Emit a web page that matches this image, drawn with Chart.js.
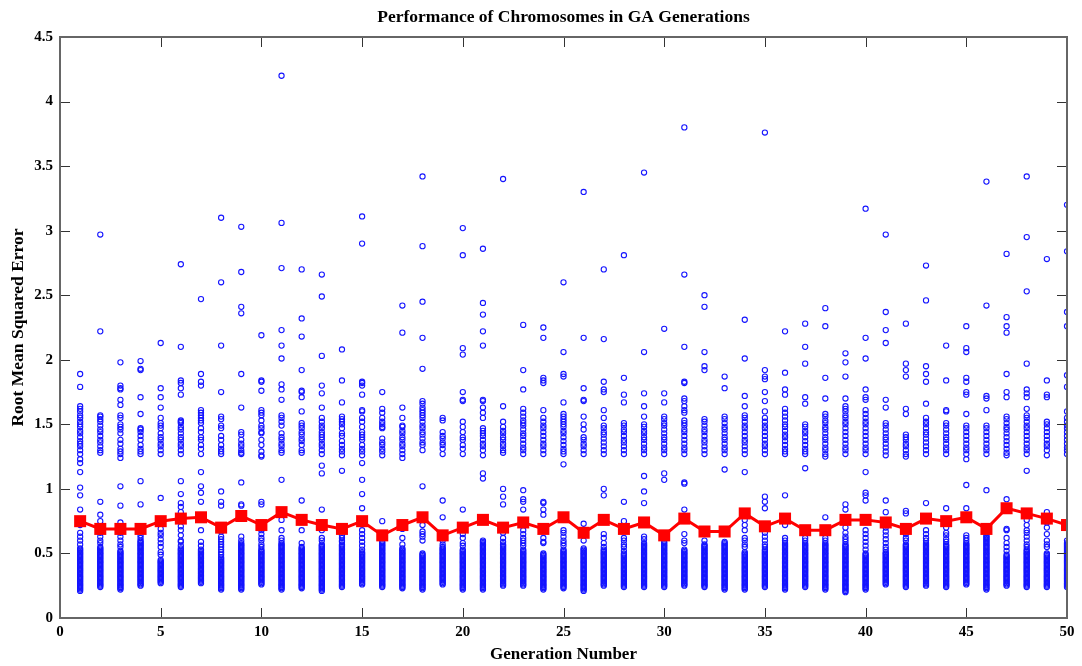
<!DOCTYPE html>
<html lang="en">
<head>
  <meta charset="UTF-8" />
  <title>Performance of Chromosomes in GA Generations</title>
  <script src="https://cdn.jsdelivr.net/npm/chart.js"></script>
  <style>
    html, body { margin:0; padding:0; background:#fff; }
    #wrap { width:1082px; height:666px; }
  </style>
</head>
<body>
<div id="wrap"><canvas id="chart" width="1082" height="666"></canvas></div>

<script>
const generations = [1,2,3,4,5,6,7,8,9,10,11,12,13,14,15,16,17,18,19,20,21,22,23,24,25,
  26,27,28,29,30,31,32,33,34,35,36,37,38,39,40,41,42,43,44,45,46,47,48,49,50];

// mean RMSE of each generation (red line)
const meanRmse = [0.75,0.69,0.69,0.69,0.75,0.77,0.78,0.70,0.79,0.72,0.82,0.76,0.72,0.69,0.75,0.64,0.72,0.78,0.64,0.70,
  0.76,0.70,0.74,0.69,0.78,0.66,0.76,0.69,0.74,0.64,0.77,0.67,0.67,0.81,0.71,0.77,0.68,0.68,0.76,0.76,
  0.74,0.69,0.77,0.75,0.78,0.69,0.85,0.81,0.77,0.72];

// chromosomes above the dense bottom cluster, one list per generation
const spreadRmse = [
  [1.89,1.79,1.64,1.62,1.60,1.57,1.55,1.52,1.50,1.48,1.45,1.43,1.40,1.37,1.35,1.33,1.30,1.27,1.23,1.20,1.13,1.01,0.95,0.84,0.72,0.66,0.63,0.60,0.57],
  [2.97,2.22,1.57,1.56,1.54,1.52,1.49,1.46,1.44,1.41,1.38,1.36,1.33,1.30,1.28,0.90,0.80,0.75,0.66,0.63,0.60,0.58],
  [1.98,1.80,1.78,1.77,1.69,1.65,1.57,1.55,1.50,1.48,1.46,1.43,1.38,1.35,1.31,1.29,1.27,1.24,1.02,0.87,0.74,0.66,0.63,0.60,0.57,0.55],
  [1.99,1.93,1.92,1.71,1.58,1.47,1.46,1.44,1.41,1.38,1.34,1.31,1.29,1.27,1.06,0.88,0.64,0.62],
  [2.13,1.78,1.71,1.63,1.55,1.51,1.49,1.47,1.43,1.40,1.38,1.35,1.33,1.30,1.27,0.93,0.73,0.69,0.66,0.64,0.61,0.58,0.55,0.51,0.49],
  [2.74,2.10,1.84,1.82,1.78,1.73,1.53,1.52,1.51,1.48,1.46,1.43,1.40,1.38,1.35,1.33,1.30,1.27,1.06,0.96,0.89,0.86,0.82,0.71,0.68,0.64,0.60,0.59,0.56],
  [2.47,1.89,1.83,1.80,1.61,1.59,1.57,1.55,1.53,1.51,1.47,1.44,1.40,1.38,1.34,1.31,1.27,1.13,1.02,0.97,0.90,0.68,0.59,0.56],
  [3.10,2.60,2.11,1.75,1.56,1.54,1.49,1.47,1.41,1.38,1.34,1.31,1.29,1.27,0.98,0.90,0.87,0.67,0.63,0.61,0.59,0.57,0.55,0.53,0.51,0.49,0.47],
  [3.03,2.68,2.41,2.36,1.89,1.63,1.44,1.42,1.38,1.35,1.33,1.30,1.28,1.27,1.05,0.88,0.87,0.63,0.60,0.58],
  [2.19,1.84,1.83,1.76,1.61,1.59,1.57,1.53,1.49,1.47,1.44,1.43,1.38,1.34,1.29,1.26,1.25,0.90,0.88,0.68,0.65,0.62,0.60,0.57,0.55],
  [4.20,3.06,2.71,2.23,2.11,2.01,1.81,1.77,1.69,1.57,1.55,1.52,1.49,1.43,1.40,1.38,1.35,1.33,1.30,1.28,1.07,0.76,0.68,0.62,0.60],
  [2.70,2.32,2.18,1.92,1.76,1.75,1.71,1.60,1.51,1.49,1.47,1.44,1.42,1.39,1.37,1.34,1.30,1.28,0.91,0.68,0.58,0.55],
  [2.66,2.49,2.03,1.80,1.74,1.63,1.55,1.52,1.49,1.47,1.44,1.42,1.40,1.38,1.35,1.33,1.30,1.27,1.18,1.12,0.84,0.68,0.62,0.60],
  [2.08,1.84,1.67,1.56,1.54,1.52,1.50,1.47,1.43,1.41,1.37,1.34,1.31,1.29,1.26,1.14,0.64,0.62,0.60,0.59],
  [3.11,2.90,1.83,1.82,1.80,1.73,1.61,1.60,1.55,1.52,1.48,1.44,1.42,1.40,1.38,1.34,1.31,1.29,1.26,1.20,1.07,0.96,0.85,0.68,0.65,0.62,0.59,0.56,0.53],
  [1.75,1.62,1.59,1.55,1.52,1.50,1.48,1.47,1.39,1.36,1.34,1.31,1.29,1.26,0.75],
  [2.42,2.21,1.63,1.55,1.49,1.48,1.45,1.43,1.40,1.38,1.35,1.33,1.30,1.27,1.24,0.69,0.62,0.57],
  [3.42,2.88,2.45,2.17,1.93,1.68,1.66,1.63,1.61,1.59,1.57,1.55,1.52,1.49,1.47,1.44,1.42,1.39,1.36,1.34,1.30,1.02,0.72,0.67,0.65,0.63,0.60],
  [1.55,1.53,1.44,1.41,1.39,1.36,1.34,1.31,1.27,0.91,0.78,0.60,0.57],
  [3.02,2.81,2.09,2.04,1.75,1.69,1.68,1.52,1.48,1.44,1.40,1.38,1.34,1.31,1.27,0.84,0.68,0.65,0.62,0.58,0.56],
  [2.86,2.44,2.35,2.22,2.11,1.69,1.68,1.63,1.59,1.55,1.47,1.45,1.43,1.41,1.38,1.35,1.33,1.30,1.26,1.12,1.08,0.60],
  [3.40,1.64,1.52,1.48,1.45,1.43,1.40,1.38,1.35,1.33,1.30,1.28,1.00,0.94,0.88,0.66,0.62,0.59],
  [2.27,1.92,1.77,1.62,1.59,1.56,1.53,1.51,1.49,1.46,1.43,1.41,1.38,1.35,1.32,1.30,1.27,0.99,0.92,0.90,0.84,0.68,0.65,0.62,0.60,0.58,0.56],
  [2.25,2.17,1.86,1.84,1.82,1.61,1.55,1.52,1.49,1.47,1.44,1.41,1.38,1.35,1.33,1.30,1.27,0.90,0.89,0.84,0.80,0.62,0.59,0.58],
  [2.60,2.06,1.89,1.87,1.67,1.58,1.56,1.54,1.52,1.50,1.48,1.45,1.43,1.40,1.37,1.34,1.31,1.29,1.27,1.19,0.68,0.66,0.63,0.60,0.58,0.56],
  [3.30,2.17,1.78,1.69,1.68,1.56,1.50,1.46,1.40,1.38,1.35,1.33,1.30,1.27,0.73,0.60],
  [2.70,2.16,1.83,1.77,1.75,1.61,1.55,1.49,1.47,1.44,1.42,1.39,1.36,1.33,1.30,1.27,1.00,0.95,0.65,0.62,0.58,0.55],
  [2.81,1.86,1.73,1.67,1.51,1.49,1.46,1.44,1.41,1.38,1.36,1.33,1.30,1.27,0.90,0.75,0.62,0.60,0.57,0.55,0.52],
  [3.45,2.06,1.74,1.64,1.56,1.50,1.48,1.45,1.43,1.40,1.38,1.35,1.32,1.30,1.27,1.10,0.98,0.89,0.63,0.61],
  [2.24,1.74,1.67,1.56,1.54,1.51,1.49,1.46,1.43,1.40,1.38,1.35,1.32,1.30,1.27,1.12,1.07],
  [3.80,2.66,2.10,1.83,1.82,1.70,1.68,1.64,1.61,1.59,1.53,1.51,1.49,1.46,1.44,1.41,1.38,1.35,1.32,1.30,1.27,1.05,1.04,0.84,0.65,0.60,0.58],
  [2.50,2.41,2.06,1.95,1.92,1.54,1.52,1.49,1.46,1.44,1.41,1.38,1.36,1.33,1.30,1.27,0.60],
  [1.87,1.78,1.56,1.54,1.51,1.48,1.46,1.43,1.40,1.38,1.35,1.32,1.30,1.27,1.15],
  [2.31,2.01,1.72,1.64,1.57,1.55,1.52,1.49,1.47,1.44,1.41,1.38,1.36,1.33,1.30,1.27,1.13,0.76,0.72,0.68,0.62,0.60,0.57,0.55],
  [3.76,1.92,1.87,1.85,1.75,1.68,1.60,1.55,1.52,1.49,1.47,1.44,1.41,1.38,1.35,1.33,1.30,1.27,0.94,0.90,0.85,0.66,0.63,0.60,0.57,0.55],
  [2.22,1.90,1.77,1.73,1.62,1.59,1.56,1.53,1.50,1.48,1.45,1.42,1.40,1.37,1.34,1.31,1.29,1.27,0.95,0.72,0.62,0.60],
  [2.28,2.10,1.97,1.71,1.66,1.50,1.48,1.45,1.43,1.40,1.37,1.34,1.31,1.29,1.27,1.16,0.62,0.60],
  [2.40,2.26,1.86,1.70,1.58,1.56,1.53,1.51,1.48,1.46,1.43,1.40,1.38,1.35,1.32,1.30,1.27,1.25,0.78,0.62,0.60],
  [2.05,1.98,1.87,1.70,1.64,1.62,1.60,1.57,1.55,1.52,1.50,1.47,1.44,1.41,1.38,1.35,1.32,1.30,1.27,0.88,0.84,0.70,0.66,0.63,0.61,0.59],
  [3.17,2.17,2.01,1.77,1.71,1.69,1.61,1.58,1.55,1.52,1.50,1.47,1.44,1.41,1.38,1.35,1.32,1.30,1.27,1.13,0.97,0.95,0.91,0.68,0.65,0.62,0.59,0.56,0.53],
  [2.97,2.37,2.23,2.13,1.69,1.63,1.51,1.49,1.46,1.43,1.40,1.38,1.35,1.32,1.29,1.26,0.91,0.82,0.70,0.67,0.64,0.61,0.58,0.55,0.53],
  [2.28,1.97,1.92,1.87,1.62,1.58,1.42,1.40,1.38,1.35,1.33,1.30,1.27,1.25,0.83,0.81,0.65,0.62,0.60],
  [2.73,2.46,1.95,1.89,1.83,1.66,1.55,1.52,1.50,1.47,1.44,1.42,1.39,1.36,1.33,1.30,1.27,0.89,0.68,0.65,0.62,0.60],
  [2.11,1.84,1.61,1.60,1.51,1.49,1.46,1.43,1.40,1.38,1.35,1.32,1.30,1.27,0.85,0.70,0.66,0.64,0.61,0.59],
  [2.26,2.09,2.06,1.86,1.83,1.75,1.73,1.58,1.49,1.47,1.44,1.41,1.38,1.35,1.32,1.30,1.27,1.23,1.03,0.85,0.64,0.62,0.60],
  [3.38,2.42,1.72,1.70,1.61,1.49,1.47,1.44,1.41,1.38,1.35,1.32,1.30,1.27,0.99],
  [2.82,2.33,2.26,2.21,1.89,1.75,1.71,1.56,1.54,1.51,1.48,1.46,1.43,1.40,1.37,1.34,1.31,1.28,1.26,0.92,0.69,0.68,0.62,0.58,0.55,0.52],
  [3.42,2.95,2.53,1.97,1.77,1.74,1.71,1.62,1.57,1.55,1.52,1.49,1.47,1.44,1.41,1.38,1.35,1.32,1.30,1.27,1.14,0.76,0.72,0.68,0.66,0.63,0.60,0.57,0.55],
  [2.78,1.84,1.73,1.71,1.52,1.50,1.47,1.44,1.41,1.38,1.35,1.33,1.30,1.26,0.82,0.74,0.70,0.65,0.60,0.57,0.55],
  [3.20,2.84,2.37,2.26,1.88,1.79,1.60,1.55,1.52,1.49,1.47,1.44,1.41,1.38,1.35,1.32,1.30,1.27,0.60,0.58]
];

// the dense bottom cluster of each generation
const denseRmse = [
  [0.54,0.53,0.52,0.51,0.50,0.49,0.48,0.47,0.46,0.45,0.44,0.43,0.42,0.41,0.40,0.39,0.38,0.37,0.36,0.35,0.34,0.33,0.32,0.31,0.30,0.29,0.28,0.27,0.26,0.25,0.24,0.23,0.22,0.21],
  [0.55,0.54,0.53,0.52,0.51,0.50,0.49,0.48,0.47,0.46,0.45,0.44,0.43,0.42,0.41,0.40,0.39,0.38,0.37,0.36,0.35,0.34,0.33,0.32,0.31,0.30,0.29,0.28,0.27,0.26,0.25,0.24],
  [0.52,0.51,0.50,0.49,0.48,0.47,0.46,0.45,0.44,0.43,0.42,0.41,0.40,0.39,0.38,0.37,0.36,0.35,0.34,0.33,0.32,0.31,0.30,0.29,0.28,0.27,0.26,0.25,0.24,0.23,0.22],
  [0.60,0.59,0.58,0.57,0.56,0.55,0.54,0.53,0.52,0.51,0.50,0.49,0.48,0.47,0.46,0.45,0.44,0.43,0.42,0.41,0.40,0.39,0.38,0.37,0.36,0.35,0.34,0.33,0.32,0.31,0.30,0.29,0.28,0.27,0.26,0.25],
  [0.45,0.44,0.43,0.42,0.41,0.40,0.39,0.38,0.37,0.36,0.35,0.34,0.33,0.32,0.31,0.30,0.29,0.28,0.27],
  [0.54,0.53,0.52,0.51,0.50,0.49,0.48,0.47,0.46,0.45,0.44,0.43,0.42,0.41,0.40,0.39,0.38,0.37,0.36,0.35,0.34,0.33,0.32,0.31,0.30,0.29,0.28,0.27,0.26,0.25,0.24],
  [0.53,0.52,0.51,0.50,0.49,0.48,0.47,0.46,0.45,0.44,0.43,0.42,0.41,0.40,0.39,0.38,0.37,0.36,0.35,0.34,0.33,0.32,0.31,0.30,0.29,0.28,0.27],
  [0.46,0.45,0.44,0.43,0.42,0.41,0.40,0.39,0.38,0.37,0.36,0.35,0.34,0.33,0.32,0.31,0.30,0.29,0.28,0.27,0.26,0.25,0.24,0.23,0.22],
  [0.57,0.56,0.55,0.54,0.53,0.52,0.51,0.50,0.49,0.48,0.47,0.46,0.45,0.44,0.43,0.42,0.41,0.40,0.39,0.38,0.37,0.36,0.35,0.34,0.33,0.32,0.31,0.30,0.29,0.28,0.27,0.26,0.25,0.24,0.23,0.22],
  [0.53,0.52,0.51,0.50,0.49,0.48,0.47,0.46,0.45,0.44,0.43,0.42,0.41,0.40,0.39,0.38,0.37,0.36,0.35,0.34,0.33,0.32,0.31,0.30,0.29,0.28,0.27,0.26],
  [0.58,0.57,0.56,0.55,0.54,0.53,0.52,0.51,0.50,0.49,0.48,0.47,0.46,0.45,0.44,0.43,0.42,0.41,0.40,0.39,0.38,0.37,0.36,0.35,0.34,0.33,0.32,0.31,0.30,0.29,0.28,0.27,0.26,0.25,0.24,0.23,0.22],
  [0.54,0.53,0.52,0.51,0.50,0.49,0.48,0.47,0.46,0.45,0.44,0.43,0.42,0.41,0.40,0.39,0.38,0.37,0.36,0.35,0.34,0.33,0.32,0.31,0.30,0.29,0.28,0.27,0.26,0.25,0.24,0.23],
  [0.57,0.56,0.55,0.54,0.53,0.52,0.51,0.50,0.49,0.48,0.47,0.46,0.45,0.44,0.43,0.42,0.41,0.40,0.39,0.38,0.37,0.36,0.35,0.34,0.33,0.32,0.31,0.30,0.29,0.28,0.27,0.26,0.25,0.24,0.23,0.22,0.21],
  [0.57,0.56,0.55,0.54,0.53,0.52,0.51,0.50,0.49,0.48,0.47,0.46,0.45,0.44,0.43,0.42,0.41,0.40,0.39,0.38,0.37,0.36,0.35,0.34,0.33,0.32,0.31,0.30,0.29,0.28,0.27,0.26,0.25,0.24],
  [0.51,0.50,0.49,0.48,0.47,0.46,0.45,0.44,0.43,0.42,0.41,0.40,0.39,0.38,0.37,0.36,0.35,0.34,0.33,0.32,0.31,0.30,0.29,0.28,0.27,0.26],
  [0.59,0.58,0.57,0.56,0.55,0.54,0.53,0.52,0.51,0.50,0.49,0.48,0.47,0.46,0.45,0.44,0.43,0.42,0.41,0.40,0.39,0.38,0.37,0.36,0.35,0.34,0.33,0.32,0.31,0.30,0.29,0.28,0.27,0.26,0.25,0.24],
  [0.54,0.53,0.52,0.51,0.50,0.49,0.48,0.47,0.46,0.45,0.44,0.43,0.42,0.41,0.40,0.39,0.38,0.37,0.36,0.35,0.34,0.33,0.32,0.31,0.30,0.29,0.28,0.27,0.26,0.25,0.24,0.23],
  [0.50,0.49,0.48,0.47,0.46,0.45,0.44,0.43,0.42,0.41,0.40,0.39,0.38,0.37,0.36,0.35,0.34,0.33,0.32,0.31,0.30,0.29,0.28,0.27,0.26,0.25,0.24,0.23,0.22],
  [0.55,0.54,0.53,0.52,0.51,0.50,0.49,0.48,0.47,0.46,0.45,0.44,0.43,0.42,0.41,0.40,0.39,0.38,0.37,0.36,0.35,0.34,0.33,0.32,0.31,0.30,0.29,0.28,0.27,0.26],
  [0.53,0.52,0.51,0.50,0.49,0.48,0.47,0.46,0.45,0.44,0.43,0.42,0.41,0.40,0.39,0.38,0.37,0.36,0.35,0.34,0.33,0.32,0.31,0.30,0.29,0.28,0.27,0.26,0.25,0.24,0.23,0.22],
  [0.59,0.58,0.57,0.56,0.55,0.54,0.53,0.52,0.51,0.50,0.49,0.48,0.47,0.46,0.45,0.44,0.43,0.42,0.41,0.40,0.39,0.38,0.37,0.36,0.35,0.34,0.33,0.32,0.31,0.30,0.29,0.28,0.27,0.26,0.25,0.24,0.23,0.22],
  [0.57,0.56,0.55,0.54,0.53,0.52,0.51,0.50,0.49,0.48,0.47,0.46,0.45,0.44,0.43,0.42,0.41,0.40,0.39,0.38,0.37,0.36,0.35,0.34,0.33,0.32,0.31,0.30,0.29,0.28,0.27,0.26,0.25],
  [0.53,0.52,0.51,0.50,0.49,0.48,0.47,0.46,0.45,0.44,0.43,0.42,0.41,0.40,0.39,0.38,0.37,0.36,0.35,0.34,0.33,0.32,0.31,0.30,0.29,0.28,0.27,0.26,0.25],
  [0.50,0.49,0.48,0.47,0.46,0.45,0.44,0.43,0.42,0.41,0.40,0.39,0.38,0.37,0.36,0.35,0.34,0.33,0.32,0.31,0.30,0.29,0.28,0.27,0.26,0.25,0.24,0.23,0.22],
  [0.53,0.52,0.51,0.50,0.49,0.48,0.47,0.46,0.45,0.44,0.43,0.42,0.41,0.40,0.39,0.38,0.37,0.36,0.35,0.34,0.33,0.32,0.31,0.30,0.29,0.28,0.27,0.26,0.25,0.24,0.23],
  [0.54,0.53,0.52,0.51,0.50,0.49,0.48,0.47,0.46,0.45,0.44,0.43,0.42,0.41,0.40,0.39,0.38,0.37,0.36,0.35,0.34,0.33,0.32,0.31,0.30,0.29,0.28,0.27,0.26,0.25,0.24,0.23,0.22,0.21],
  [0.53,0.52,0.51,0.50,0.49,0.48,0.47,0.46,0.45,0.44,0.43,0.42,0.41,0.40,0.39,0.38,0.37,0.36,0.35,0.34,0.33,0.32,0.31,0.30,0.29,0.28,0.27,0.26,0.25],
  [0.50,0.49,0.48,0.47,0.46,0.45,0.44,0.43,0.42,0.41,0.40,0.39,0.38,0.37,0.36,0.35,0.34,0.33,0.32,0.31,0.30,0.29,0.28,0.27,0.26,0.25,0.24],
  [0.58,0.57,0.56,0.55,0.54,0.53,0.52,0.51,0.50,0.49,0.48,0.47,0.46,0.45,0.44,0.43,0.42,0.41,0.40,0.39,0.38,0.37,0.36,0.35,0.34,0.33,0.32,0.31,0.30,0.29,0.28,0.27,0.26,0.25,0.24],
  [0.59,0.58,0.57,0.56,0.55,0.54,0.53,0.52,0.51,0.50,0.49,0.48,0.47,0.46,0.45,0.44,0.43,0.42,0.41,0.40,0.39,0.38,0.37,0.36,0.35,0.34,0.33,0.32,0.31,0.30,0.29,0.28,0.27,0.26,0.25,0.24],
  [0.53,0.52,0.51,0.50,0.49,0.48,0.47,0.46,0.45,0.44,0.43,0.42,0.41,0.40,0.39,0.38,0.37,0.36,0.35,0.34,0.33,0.32,0.31,0.30,0.29,0.28,0.27,0.26,0.25],
  [0.57,0.56,0.55,0.54,0.53,0.52,0.51,0.50,0.49,0.48,0.47,0.46,0.45,0.44,0.43,0.42,0.41,0.40,0.39,0.38,0.37,0.36,0.35,0.34,0.33,0.32,0.31,0.30,0.29,0.28,0.27,0.26,0.25,0.24],
  [0.59,0.58,0.57,0.56,0.55,0.54,0.53,0.52,0.51,0.50,0.49,0.48,0.47,0.46,0.45,0.44,0.43,0.42,0.41,0.40,0.39,0.38,0.37,0.36,0.35,0.34,0.33,0.32,0.31,0.30,0.29,0.28,0.27,0.26,0.25,0.24,0.23,0.22],
  [0.51,0.50,0.49,0.48,0.47,0.46,0.45,0.44,0.43,0.42,0.41,0.40,0.39,0.38,0.37,0.36,0.35,0.34,0.33,0.32,0.31,0.30,0.29,0.28,0.27,0.26,0.25,0.24,0.23,0.22],
  [0.53,0.52,0.51,0.50,0.49,0.48,0.47,0.46,0.45,0.44,0.43,0.42,0.41,0.40,0.39,0.38,0.37,0.36,0.35,0.34,0.33,0.32,0.31,0.30,0.29,0.28,0.27,0.26,0.25,0.24],
  [0.58,0.57,0.56,0.55,0.54,0.53,0.52,0.51,0.50,0.49,0.48,0.47,0.46,0.45,0.44,0.43,0.42,0.41,0.40,0.39,0.38,0.37,0.36,0.35,0.34,0.33,0.32,0.31,0.30,0.29,0.28,0.27,0.26,0.25,0.24,0.23,0.22],
  [0.58,0.57,0.56,0.55,0.54,0.53,0.52,0.51,0.50,0.49,0.48,0.47,0.46,0.45,0.44,0.43,0.42,0.41,0.40,0.39,0.38,0.37,0.36,0.35,0.34,0.33,0.32,0.31,0.30,0.29,0.28,0.27,0.26,0.25,0.24],
  [0.58,0.57,0.56,0.55,0.54,0.53,0.52,0.51,0.50,0.49,0.48,0.47,0.46,0.45,0.44,0.43,0.42,0.41,0.40,0.39,0.38,0.37,0.36,0.35,0.34,0.33,0.32,0.31,0.30,0.29,0.28,0.27,0.26,0.25,0.24,0.23,0.22],
  [0.57,0.56,0.55,0.54,0.53,0.52,0.51,0.50,0.49,0.48,0.47,0.46,0.45,0.44,0.43,0.42,0.41,0.40,0.39,0.38,0.37,0.36,0.35,0.34,0.33,0.32,0.31,0.30,0.29,0.28,0.27,0.26,0.25,0.24,0.23,0.22,0.21,0.20],
  [0.50,0.49,0.48,0.47,0.46,0.45,0.44,0.43,0.42,0.41,0.40,0.39,0.38,0.37,0.36,0.35,0.34,0.33,0.32,0.31,0.30,0.29,0.28,0.27,0.26,0.25,0.24,0.23,0.22],
  [0.51,0.50,0.49,0.48,0.47,0.46,0.45,0.44,0.43,0.42,0.41,0.40,0.39,0.38,0.37,0.36,0.35,0.34,0.33,0.32,0.31,0.30,0.29,0.28,0.27,0.26],
  [0.57,0.56,0.55,0.54,0.53,0.52,0.51,0.50,0.49,0.48,0.47,0.46,0.45,0.44,0.43,0.42,0.41,0.40,0.39,0.38,0.37,0.36,0.35,0.34,0.33,0.32,0.31,0.30,0.29,0.28,0.27,0.26,0.25,0.24],
  [0.58,0.57,0.56,0.55,0.54,0.53,0.52,0.51,0.50,0.49,0.48,0.47,0.46,0.45,0.44,0.43,0.42,0.41,0.40,0.39,0.38,0.37,0.36,0.35,0.34,0.33,0.32,0.31,0.30,0.29,0.28,0.27,0.26,0.25],
  [0.57,0.56,0.55,0.54,0.53,0.52,0.51,0.50,0.49,0.48,0.47,0.46,0.45,0.44,0.43,0.42,0.41,0.40,0.39,0.38,0.37,0.36,0.35,0.34,0.33,0.32,0.31,0.30,0.29,0.28,0.27,0.26,0.25,0.24],
  [0.58,0.57,0.56,0.55,0.54,0.53,0.52,0.51,0.50,0.49,0.48,0.47,0.46,0.45,0.44,0.43,0.42,0.41,0.40,0.39,0.38,0.37,0.36,0.35,0.34,0.33,0.32,0.31,0.30,0.29,0.28,0.27,0.26],
  [0.64,0.63,0.62,0.61,0.60,0.59,0.58,0.57,0.56,0.55,0.54,0.53,0.52,0.51,0.50,0.49,0.48,0.47,0.46,0.45,0.44,0.43,0.42,0.41,0.40,0.39,0.38,0.37,0.36,0.35,0.34,0.33,0.32,0.31,0.30,0.29,0.28,0.27,0.26,0.25,0.24,0.23,0.22],
  [0.49,0.48,0.47,0.46,0.45,0.44,0.43,0.42,0.41,0.40,0.39,0.38,0.37,0.36,0.35,0.34,0.33,0.32,0.31,0.30,0.29,0.28,0.27,0.26,0.25],
  [0.53,0.52,0.51,0.50,0.49,0.48,0.47,0.46,0.45,0.44,0.43,0.42,0.41,0.40,0.39,0.38,0.37,0.36,0.35,0.34,0.33,0.32,0.31,0.30,0.29,0.28,0.27,0.26,0.25,0.24],
  [0.50,0.49,0.48,0.47,0.46,0.45,0.44,0.43,0.42,0.41,0.40,0.39,0.38,0.37,0.36,0.35,0.34,0.33,0.32,0.31,0.30,0.29,0.28,0.27,0.26,0.25,0.24],
  [0.57,0.56,0.55,0.54,0.53,0.52,0.51,0.50,0.49,0.48,0.47,0.46,0.45,0.44,0.43,0.42,0.41,0.40,0.39,0.38,0.37,0.36,0.35,0.34,0.33,0.32,0.31,0.30,0.29,0.28,0.27,0.26,0.25,0.24]
];

const scatterPoints = generations.flatMap((g, i) =>
  spreadRmse[i].concat(denseRmse[i]).map(v => ({ x: g, y: v })));
const meanPoints = meanRmse.map((v, i) => ({ x: generations[i], y: v }));

const FONT = '"Liberation Serif", "Times New Roman", serif';

// box round the plot area with inward tick marks on all four sides
const frame = {
  id: 'frame',
  afterDraw(chart) {
    const { ctx, chartArea: { left, right, top, bottom }, scales: { x, y } } = chart;
    ctx.save();
    ctx.strokeStyle = '#333';
    ctx.lineWidth = 1;
    ctx.beginPath();
    x.ticks.forEach(t => {
      const px = Math.round(x.getPixelForValue(t.value)) + 0.5;
      ctx.moveTo(px, bottom); ctx.lineTo(px, bottom - 10);
      ctx.moveTo(px, top); ctx.lineTo(px, top + 10);
    });
    y.ticks.forEach(t => {
      const py = Math.round(y.getPixelForValue(t.value)) + 0.5;
      ctx.moveTo(left, py); ctx.lineTo(left + 10, py);
      ctx.moveTo(right, py); ctx.lineTo(right - 10, py);
    });
    ctx.stroke();
    ctx.strokeStyle = '#666';
    ctx.lineWidth = 2;
    ctx.strokeRect(left, top, right - left, bottom - top);
    ctx.restore();
  }
};

new Chart(document.getElementById('chart'), {
  type: 'scatter',
  data: {
    datasets: [
      {
        type: 'line',
        label: 'Mean',
        data: meanPoints,
        borderColor: '#ff0000',
        backgroundColor: '#ff0000',
        borderWidth: 3,
        pointStyle: 'rect',
        pointRadius: 8.5,
        pointBorderWidth: 0,
        tension: 0,
        order: 0
      },
      {
        label: 'Chromosomes',
        data: scatterPoints,
        borderColor: '#1414ff',
        backgroundColor: 'rgba(0,0,0,0)',
        borderWidth: 1.1,
        pointRadius: 2.6,
        order: 1
      }
    ]
  },
  options: {
    responsive: false,
    animation: false,
    layout: { padding: { left: 0, right: 15, top: 0, bottom: 0 } },
    plugins: {
      legend: { display: false },
      tooltip: { enabled: false },
      title: {
        display: true,
        fullSize: false,
        text: 'Performance of Chromosomes in GA Generations',
        color: '#000',
        font: { family: FONT, size: 17.5, weight: 'bold', lineHeight: 1.2 },
        padding: { top: 7, bottom: 9 }
      }
    },
    scales: {
      x: {
        type: 'linear',
        min: 0, max: 50,
        grid: { display: false, drawTicks: false },
        border: { display: false },
        afterFit: s => { s.height = 48; },
        ticks: { stepSize: 5, color: '#000', padding: 5, maxRotation: 0,
                 font: { family: FONT, size: 15, weight: 'bold' } },
        title: { display: true, text: 'Generation Number', color: '#000', padding: { top: 0, bottom: 1 },
                 font: { family: FONT, size: 17, weight: 'bold' } }
      },
      y: {
        min: 0, max: 4.5,
        grid: { display: false, drawTicks: false },
        border: { display: false },
        afterFit: s => { s.width = 60; },
        ticks: { stepSize: 0.5, color: '#000', padding: 7, callback: v => String(v),
                 font: { family: FONT, size: 15, weight: 'bold' } },
        title: { display: true, text: 'Root Mean Squared Error', color: '#000', padding: { top: 8, bottom: 0 },
                 font: { family: FONT, size: 17.5, weight: 'bold' } }
      }
    }
  },
  plugins: [frame]
});
</script>
</body>
</html>
